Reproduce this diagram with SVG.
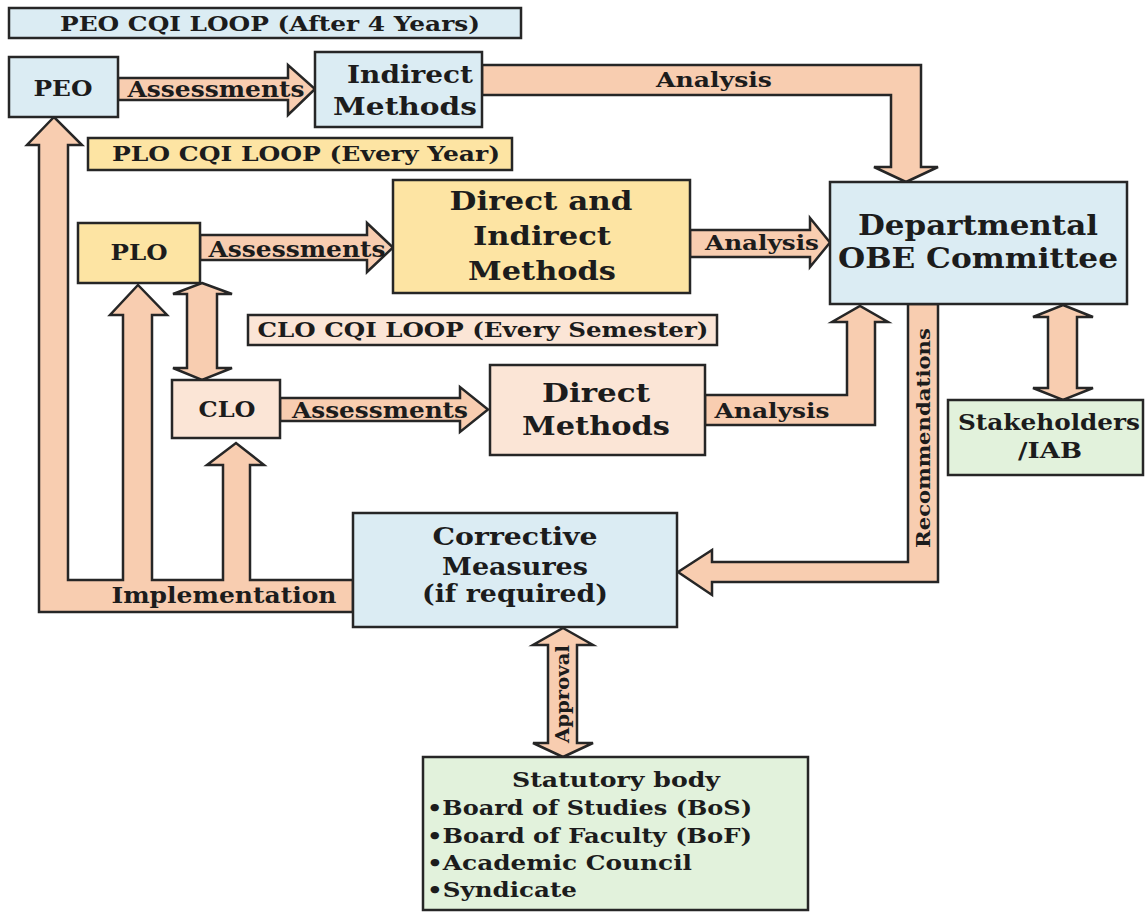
<svg xmlns="http://www.w3.org/2000/svg" width="1145" height="913" viewBox="0 0 1145 913">
  <style>
    .box { stroke: #262626; stroke-width: 2.5; }
    .blue { fill: #dbecf3; }
    .yellow { fill: #fde4a3; }
    .peach { fill: #fbe5d6; }
    .green { fill: #e2f2dc; }
    .arrow { fill: #f8cdb0; stroke: #262626; stroke-width: 2.5; stroke-linejoin: miter; }
    text { font-family: "DejaVu Serif", "Liberation Serif", serif; font-weight: bold; fill: #1c1c1c; text-anchor: middle; }
    .lbl { font-size: 22px; }
    .ttl { font-size: 26px; }
    .loop { font-size: 21px; }
    .list { font-size: 21px; text-anchor: start; }
  </style>
  <rect width="1145" height="913" fill="#ffffff"/>

  <!-- connectors -->
  <g id="connectors">
    <!-- PEO -> Indirect Methods -->
    <polygon class="arrow" points="118,78 288,78 288,65 315,89 288,115 288,100 118,100"/>
    <!-- Indirect Methods -> Departmental OBE Committee -->
    <polygon class="arrow" points="482,65 921,65 921,167 938,167 906,182 874,167 891,167 891,95 482,95"/>
    <!-- PLO -> Direct and Indirect Methods -->
    <polygon class="arrow" points="200,235 367,235 367,223 393,247.5 367,272 367,260 200,260"/>
    <!-- Direct and Indirect Methods -> Departmental OBE Committee -->
    <polygon class="arrow" points="690,230 810,230 810,218 830,242.5 810,267 810,257 690,257"/>
    <!-- PLO <-> CLO -->
    <polygon class="arrow" points="202,283 232,294 217,294 217,368 232,368 202,380 173,368 187,368 187,294 173,294"/>
    <!-- CLO -> Direct Methods -->
    <polygon class="arrow" points="280,398 460,398 460,387 488,409.5 460,432 460,421 280,421"/>
    <!-- Direct Methods -> Departmental OBE Committee -->
    <polygon class="arrow" points="705,395 847,395 847,322 832,322 860,306 888,322 875,322 875,425 705,425"/>
    <!-- Departmental OBE Committee <-> Stakeholders/IAB -->
    <polygon class="arrow" points="1063,305 1093,317 1077,317 1077,388 1093,388 1063,400 1033,388 1048,388 1048,317 1033,317"/>
    <!-- Recommendations: Departmental OBE Committee -> Corrective Measures -->
    <polygon class="arrow" points="908,304 938,304 938,582 712,582 712,595 678,572 712,550 712,562 908,562"/>
    <!-- Implementation: Corrective Measures -> CLO, PLO, PEO -->
    <polygon class="arrow" points="353,580 250,580 250,465 264,465 236,443 207,465 223,465 223,580 152,580 152,315 167,315 138,285 110,315 123,315 123,580 68,580 68,145 82,145 54,117 27,145 39,145 39,612 353,612"/>
    <!-- Corrective Measures <-> Statutory body -->
    <polygon class="arrow" points="563,628 593,645 577,645 577,743 593,743 563,757 533,743 548,743 548,645 533,645"/>

    <text class="lbl" x="216" y="97" textLength="177" lengthAdjust="spacingAndGlyphs">Assessments</text>
    <text class="lbl" x="714" y="87" font-size="20" style="font-size:20px" textLength="116" lengthAdjust="spacingAndGlyphs">Analysis</text>
    <text class="lbl" x="297" y="257" textLength="177" lengthAdjust="spacingAndGlyphs">Assessments</text>
    <text class="lbl" x="762" y="250" style="font-size:20px" textLength="114" lengthAdjust="spacingAndGlyphs">Analysis</text>
    <text class="lbl" x="380" y="418" textLength="176" lengthAdjust="spacingAndGlyphs">Assessments</text>
    <text class="lbl" x="772" y="418" style="font-size:20px" textLength="115" lengthAdjust="spacingAndGlyphs">Analysis</text>
    <text class="lbl" x="0" y="7" style="font-size:19px" transform="translate(923,438) rotate(-90)" textLength="220" lengthAdjust="spacingAndGlyphs">Recommendations</text>
    <text class="lbl" x="224" y="603" textLength="225" lengthAdjust="spacingAndGlyphs">Implementation</text>
    <text class="lbl" x="0" y="6" style="font-size:18px" transform="translate(563,694) rotate(-90)" textLength="98" lengthAdjust="spacingAndGlyphs">Approval</text>
  </g>

  <!-- loop captions -->
  <g id="peo-loop">
    <rect class="box blue" x="9" y="8" width="512" height="30"/>
    <text class="loop" x="270" y="31" textLength="420" lengthAdjust="spacingAndGlyphs">PEO CQI LOOP (After 4 Years)</text>
  </g>
  <g id="plo-loop">
    <rect class="box yellow" x="88" y="138" width="424" height="32"/>
    <text class="loop" x="306" y="161" textLength="388" lengthAdjust="spacingAndGlyphs">PLO CQI LOOP (Every Year)</text>
  </g>
  <g id="clo-loop">
    <rect class="box peach" x="248" y="315" width="469" height="30"/>
    <text class="loop" x="483" y="337" textLength="451" lengthAdjust="spacingAndGlyphs">CLO CQI LOOP (Every Semester)</text>
  </g>

  <!-- nodes -->
  <g id="peo">
    <rect class="box blue" x="9" y="57" width="109" height="60"/>
    <text class="lbl" x="63" y="96" textLength="59" lengthAdjust="spacingAndGlyphs">PEO</text>
  </g>
  <g id="indirect-methods">
    <rect class="box blue" x="315" y="52" width="167" height="75"/>
    <text class="ttl" x="410" y="83" style="font-size:25px" textLength="126" lengthAdjust="spacingAndGlyphs">Indirect</text>
    <text class="ttl" x="405" y="115" style="font-size:25px" textLength="144" lengthAdjust="spacingAndGlyphs">Methods</text>
  </g>
  <g id="plo">
    <rect class="box yellow" x="78" y="223" width="122" height="60"/>
    <text class="lbl" x="139" y="260" textLength="57" lengthAdjust="spacingAndGlyphs">PLO</text>
  </g>
  <g id="direct-indirect-methods">
    <rect class="box yellow" x="393" y="180" width="297" height="113"/>
    <text class="ttl" x="541" y="210" textLength="183" lengthAdjust="spacingAndGlyphs">Direct and</text>
    <text class="ttl" x="542" y="245" textLength="138" lengthAdjust="spacingAndGlyphs">Indirect</text>
    <text class="ttl" x="542" y="280" textLength="148" lengthAdjust="spacingAndGlyphs">Methods</text>
  </g>
  <g id="departmental-obe-committee">
    <rect class="box blue" x="830" y="182" width="297" height="122"/>
    <text class="ttl" x="978" y="235" style="font-size:27px" textLength="240" lengthAdjust="spacingAndGlyphs">Departmental</text>
    <text class="ttl" x="978" y="268" style="font-size:27px" textLength="280" lengthAdjust="spacingAndGlyphs">OBE Committee</text>
  </g>
  <g id="clo">
    <rect class="box peach" x="172" y="380" width="108" height="58"/>
    <text class="lbl" x="227" y="417" textLength="57" lengthAdjust="spacingAndGlyphs">CLO</text>
  </g>
  <g id="direct-methods">
    <rect class="box peach" x="490" y="365" width="215" height="90"/>
    <text class="ttl" x="596" y="402" textLength="108" lengthAdjust="spacingAndGlyphs">Direct</text>
    <text class="ttl" x="596" y="435" textLength="148" lengthAdjust="spacingAndGlyphs">Methods</text>
  </g>
  <g id="stakeholders">
    <rect class="box green" x="948" y="400" width="195" height="75"/>
    <text class="lbl" x="1049" y="430" textLength="182" lengthAdjust="spacingAndGlyphs">Stakeholders</text>
    <text class="lbl" x="1050" y="458" textLength="64" lengthAdjust="spacingAndGlyphs">/IAB</text>
  </g>
  <g id="corrective-measures">
    <rect class="box blue" x="353" y="513" width="324" height="114"/>
    <text class="ttl" x="515" y="545" style="font-size:24px" textLength="165" lengthAdjust="spacingAndGlyphs">Corrective</text>
    <text class="ttl" x="515" y="575" style="font-size:24px" textLength="146" lengthAdjust="spacingAndGlyphs">Measures</text>
    <text class="ttl" x="515" y="602" style="font-size:24px" textLength="186" lengthAdjust="spacingAndGlyphs">(if required)</text>
  </g>
  <g id="statutory-body">
    <rect class="box green" x="423" y="757" width="385" height="153"/>
    <text class="loop" x="616" y="787" textLength="208" lengthAdjust="spacingAndGlyphs">Statutory body</text>
    <text class="list" x="427" y="815" textLength="325" lengthAdjust="spacingAndGlyphs">•Board of Studies (BoS)</text>
    <text class="list" x="427" y="843" textLength="325" lengthAdjust="spacingAndGlyphs">•Board of Faculty (BoF)</text>
    <text class="list" x="427" y="870" textLength="265" lengthAdjust="spacingAndGlyphs">•Academic Council</text>
    <text class="list" x="427" y="897" textLength="150" lengthAdjust="spacingAndGlyphs">•Syndicate</text>
  </g>
</svg>
